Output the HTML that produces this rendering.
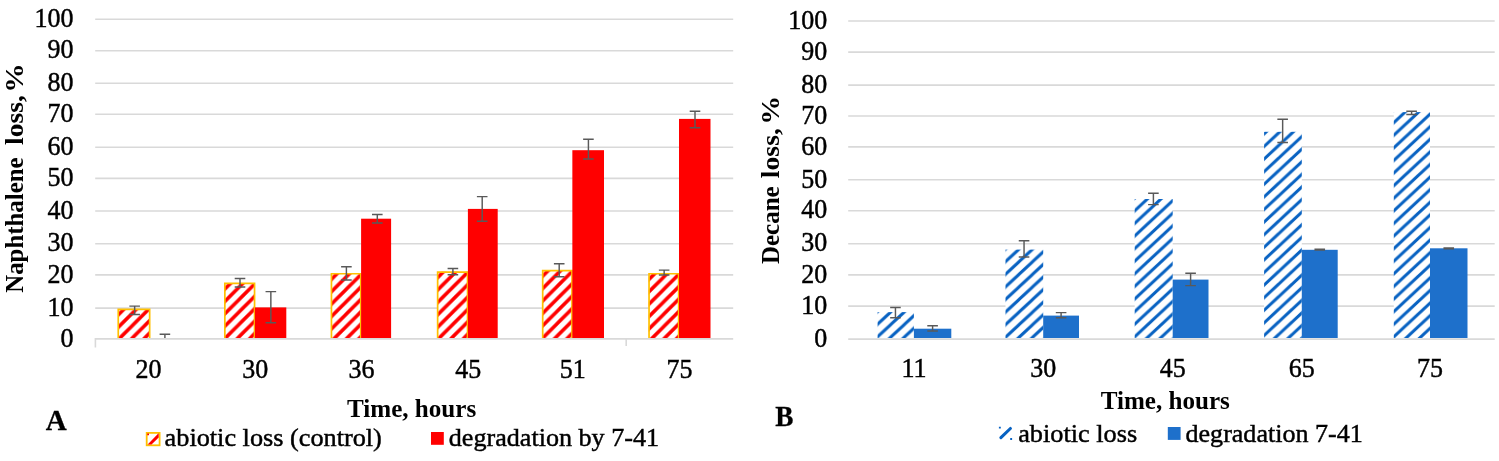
<!DOCTYPE html>
<html lang="en"><head><meta charset="utf-8"><title>Naphthalene and decane loss</title>
<style>html,body{margin:0;padding:0;background:#fff;overflow:hidden}svg{display:block}text{font-family:"Liberation Serif","Times New Roman",serif;fill:#000;font-size:26px}.n{stroke:#000;stroke-width:.45px}.b{font-weight:bold}.l{font-size:29px;font-weight:bold;stroke:#000;stroke-width:.3px}</style></head><body>
<svg width="1499" height="461" viewBox="0 0 1499 461">
<defs>
<pattern id="hr" width="12.4" height="12.4" patternUnits="userSpaceOnUse"><rect width="12.4" height="12.4" fill="#fff"/><path d="M-4.00 -1.20L16.40 -21.60M-4.00 11.20L16.40 -9.20M-4.00 23.60L16.40 3.20M-4.00 36.00L16.40 15.60" stroke="#ff0000" stroke-width="3.6"/></pattern>
<pattern id="hb0" width="13.548" height="12.6" patternUnits="userSpaceOnUse"><rect width="13.548" height="12.6" fill="#fff"/><path d="M-4.00 -9.38L17.55 -29.42M-4.00 3.22L17.55 -16.82M-4.00 15.82L17.55 -4.22M-4.00 28.42L17.55 8.38" stroke="#0862c2" stroke-width="3.05"/></pattern>
<pattern id="hb1" width="13.548" height="12.6" patternUnits="userSpaceOnUse"><rect width="13.548" height="12.6" fill="#fff"/><path d="M-4.00 -9.38L17.55 -29.42M-4.00 3.22L17.55 -16.82M-4.00 15.82L17.55 -4.22M-4.00 28.42L17.55 8.38" stroke="#0862c2" stroke-width="3.05"/></pattern>
<pattern id="hb2" width="13.548" height="12.6" patternUnits="userSpaceOnUse"><rect width="13.548" height="12.6" fill="#fff"/><path d="M-4.00 -9.68L17.55 -29.72M-4.00 2.92L17.55 -17.12M-4.00 15.52L17.55 -4.52M-4.00 28.12L17.55 8.08" stroke="#0862c2" stroke-width="3.05"/></pattern>
<pattern id="hb3" width="13.548" height="12.6" patternUnits="userSpaceOnUse"><rect width="13.548" height="12.6" fill="#fff"/><path d="M-4.00 -6.88L17.55 -26.92M-4.00 5.72L17.55 -14.32M-4.00 18.32L17.55 -1.72M-4.00 30.92L17.55 10.88" stroke="#0862c2" stroke-width="3.05"/></pattern>
<pattern id="hb4" width="13.548" height="12.6" patternUnits="userSpaceOnUse"><rect width="13.548" height="12.6" fill="#fff"/><path d="M-4.00 -10.98L17.55 -31.02M-4.00 1.62L17.55 -18.42M-4.00 14.22L17.55 -5.82M-4.00 26.82L17.55 6.78" stroke="#0862c2" stroke-width="3.05"/></pattern>
</defs>
<rect width="1499" height="461" fill="#fff"/>
<text class="n" transform="translate(73.60,346.60) scale(1,1.085)" text-anchor="end">0</text>
<line x1="95.20" y1="308.10" x2="733.20" y2="308.10" stroke="#d9d9d9" stroke-width="1.6"/>
<text class="n" transform="translate(73.60,315.80) scale(1,1.085)" text-anchor="end">10</text>
<line x1="95.20" y1="274.90" x2="733.20" y2="274.90" stroke="#d9d9d9" stroke-width="1.6"/>
<text class="n" transform="translate(73.60,282.60) scale(1,1.085)" text-anchor="end">20</text>
<line x1="95.20" y1="243.70" x2="733.20" y2="243.70" stroke="#d9d9d9" stroke-width="1.6"/>
<text class="n" transform="translate(73.60,251.40) scale(1,1.085)" text-anchor="end">30</text>
<line x1="95.20" y1="211.00" x2="733.20" y2="211.00" stroke="#d9d9d9" stroke-width="1.6"/>
<text class="n" transform="translate(73.60,218.70) scale(1,1.085)" text-anchor="end">40</text>
<line x1="95.20" y1="178.40" x2="733.20" y2="178.40" stroke="#d9d9d9" stroke-width="1.6"/>
<text class="n" transform="translate(73.60,186.10) scale(1,1.085)" text-anchor="end">50</text>
<line x1="95.20" y1="147.20" x2="733.20" y2="147.20" stroke="#d9d9d9" stroke-width="1.6"/>
<text class="n" transform="translate(73.60,154.90) scale(1,1.085)" text-anchor="end">60</text>
<line x1="95.20" y1="114.20" x2="733.20" y2="114.20" stroke="#d9d9d9" stroke-width="1.6"/>
<text class="n" transform="translate(73.60,121.90) scale(1,1.085)" text-anchor="end">70</text>
<line x1="95.20" y1="83.30" x2="733.20" y2="83.30" stroke="#d9d9d9" stroke-width="1.6"/>
<text class="n" transform="translate(73.60,91.00) scale(1,1.085)" text-anchor="end">80</text>
<line x1="95.20" y1="50.70" x2="733.20" y2="50.70" stroke="#d9d9d9" stroke-width="1.6"/>
<text class="n" transform="translate(73.60,58.40) scale(1,1.085)" text-anchor="end">90</text>
<line x1="95.20" y1="19.30" x2="733.20" y2="19.30" stroke="#d9d9d9" stroke-width="1.6"/>
<text class="n" transform="translate(73.60,27.00) scale(1,1.085)" text-anchor="end">100</text>
<g transform="translate(117.40,308.50)">
<rect x=".6" y=".6" width="31.90" height="28.90" fill="url(#hr)"/>
<path d="M0.85 29.50V0.85H32.25V29.50" fill="none" stroke="#ffc000" stroke-width="1.7"/>
</g>
<path d="M134.65 306.10V314.50M129.35 306.10h10.6M129.35 314.50h10.6" stroke="#595959" stroke-width="1.45" fill="none"/>
<path d="M164.90 334.20V338.60M159.60 334.20h10.6" stroke="#595959" stroke-width="1.45" fill="none"/>
<text class="n" transform="translate(148.40,377.7) scale(1,1.085)" text-anchor="middle">20</text>
<g transform="translate(224.00,282.60)">
<rect x=".6" y=".6" width="30.20" height="54.80" fill="url(#hr)"/>
<path d="M0.85 55.40V0.85H30.55V55.40" fill="none" stroke="#ffc000" stroke-width="1.7"/>
</g>
<rect x="254.90" y="307.40" width="31.40" height="30.60" fill="#ff0000"/>
<path d="M240.00 278.50V286.90M234.70 278.50h10.6M234.70 286.90h10.6" stroke="#595959" stroke-width="1.45" fill="none"/>
<path d="M270.85 291.60V322.80M265.55 291.60h10.6M265.55 322.80h10.6" stroke="#595959" stroke-width="1.45" fill="none"/>
<text class="n" transform="translate(255.30,377.7) scale(1,1.085)" text-anchor="middle">30</text>
<g transform="translate(330.60,272.90)">
<rect x=".6" y=".6" width="29.80" height="64.50" fill="url(#hr)"/>
<path d="M0.85 65.10V0.85H30.15V65.10" fill="none" stroke="#ffc000" stroke-width="1.7"/>
</g>
<rect x="361.10" y="218.70" width="30.00" height="119.30" fill="#ff0000"/>
<path d="M346.40 266.80V280.00M341.10 266.80h10.6M341.10 280.00h10.6" stroke="#595959" stroke-width="1.45" fill="none"/>
<path d="M377.30 214.40V223.00M372.00 214.40h10.6M372.00 223.00h10.6" stroke="#595959" stroke-width="1.45" fill="none"/>
<text class="n" transform="translate(361.50,377.7) scale(1,1.085)" text-anchor="middle">36</text>
<g transform="translate(436.80,271.20)">
<rect x=".6" y=".6" width="30.40" height="66.20" fill="url(#hr)"/>
<path d="M0.85 66.80V0.85H30.75V66.80" fill="none" stroke="#ffc000" stroke-width="1.7"/>
</g>
<rect x="467.90" y="208.90" width="29.80" height="129.10" fill="#ff0000"/>
<path d="M452.90 268.50V274.80M447.60 268.50h10.6M447.60 274.80h10.6" stroke="#595959" stroke-width="1.45" fill="none"/>
<path d="M482.20 196.60V221.30M476.90 196.60h10.6M476.90 221.30h10.6" stroke="#595959" stroke-width="1.45" fill="none"/>
<text class="n" transform="translate(468.30,377.7) scale(1,1.085)" text-anchor="middle">45</text>
<g transform="translate(541.85,269.70)">
<rect x=".6" y=".6" width="29.80" height="67.70" fill="url(#hr)"/>
<path d="M0.85 68.30V0.85H30.15V68.30" fill="none" stroke="#ffc000" stroke-width="1.7"/>
</g>
<rect x="572.35" y="150.20" width="31.65" height="187.80" fill="#ff0000"/>
<path d="M559.20 263.80V276.70M553.90 263.80h10.6M553.90 276.70h10.6" stroke="#595959" stroke-width="1.45" fill="none"/>
<path d="M588.42 139.30V159.00M583.12 139.30h10.6M583.12 159.00h10.6" stroke="#595959" stroke-width="1.45" fill="none"/>
<text class="n" transform="translate(572.75,377.7) scale(1,1.085)" text-anchor="middle">51</text>
<g transform="translate(648.20,272.90)">
<rect x=".6" y=".6" width="30.10" height="64.50" fill="url(#hr)"/>
<path d="M0.85 65.10V0.85H30.45V65.10" fill="none" stroke="#ffc000" stroke-width="1.7"/>
</g>
<rect x="679.00" y="118.90" width="31.50" height="219.10" fill="#ff0000"/>
<path d="M664.15 270.10V275.00M658.85 270.10h10.6M658.85 275.00h10.6" stroke="#595959" stroke-width="1.45" fill="none"/>
<path d="M695.00 111.20V127.80M689.70 111.20h10.6M689.70 127.80h10.6" stroke="#595959" stroke-width="1.45" fill="none"/>
<text class="n" transform="translate(679.40,377.7) scale(1,1.085)" text-anchor="middle">75</text>
<path d="M95.4 347.6V338.9H733.2M626.2 338.9V345.9" fill="none" stroke="#d9d9d9" stroke-width="1.6"/>
<text class="n" transform="translate(827.20,346.80) scale(1,1.085)" text-anchor="end">0</text>
<line x1="848.20" y1="306.10" x2="1494.70" y2="306.10" stroke="#d9d9d9" stroke-width="1.6"/>
<text class="n" transform="translate(827.20,313.80) scale(1,1.085)" text-anchor="end">10</text>
<line x1="848.20" y1="274.90" x2="1494.70" y2="274.90" stroke="#d9d9d9" stroke-width="1.6"/>
<text class="n" transform="translate(827.20,282.60) scale(1,1.085)" text-anchor="end">20</text>
<line x1="848.20" y1="243.70" x2="1494.70" y2="243.70" stroke="#d9d9d9" stroke-width="1.6"/>
<text class="n" transform="translate(827.20,251.40) scale(1,1.085)" text-anchor="end">30</text>
<line x1="848.20" y1="210.75" x2="1494.70" y2="210.75" stroke="#d9d9d9" stroke-width="1.6"/>
<text class="n" transform="translate(827.20,218.45) scale(1,1.085)" text-anchor="end">40</text>
<line x1="848.20" y1="179.80" x2="1494.70" y2="179.80" stroke="#d9d9d9" stroke-width="1.6"/>
<text class="n" transform="translate(827.20,187.50) scale(1,1.085)" text-anchor="end">50</text>
<line x1="848.20" y1="146.90" x2="1494.70" y2="146.90" stroke="#d9d9d9" stroke-width="1.6"/>
<text class="n" transform="translate(827.20,154.60) scale(1,1.085)" text-anchor="end">60</text>
<line x1="848.20" y1="116.00" x2="1494.70" y2="116.00" stroke="#d9d9d9" stroke-width="1.6"/>
<text class="n" transform="translate(827.20,123.70) scale(1,1.085)" text-anchor="end">70</text>
<line x1="848.20" y1="85.10" x2="1494.70" y2="85.10" stroke="#d9d9d9" stroke-width="1.6"/>
<text class="n" transform="translate(827.20,92.80) scale(1,1.085)" text-anchor="end">80</text>
<line x1="848.20" y1="52.10" x2="1494.70" y2="52.10" stroke="#d9d9d9" stroke-width="1.6"/>
<text class="n" transform="translate(827.20,59.80) scale(1,1.085)" text-anchor="end">90</text>
<line x1="848.20" y1="20.95" x2="1494.70" y2="20.95" stroke="#d9d9d9" stroke-width="1.6"/>
<text class="n" transform="translate(827.20,28.65) scale(1,1.085)" text-anchor="end">100</text>
<g transform="translate(877.60,312.10)">
<rect width="36.30" height="25.90" fill="url(#hb0)"/>
</g>
<rect x="913.90" y="328.70" width="37.40" height="9.30" fill="#1e70cb"/>
<path d="M895.45 307.50V317.80M890.15 307.50h10.6M890.15 317.80h10.6" stroke="#595959" stroke-width="1.45" fill="none"/>
<path d="M932.60 325.80V331.00M927.30 325.80h10.6M927.30 331.00h10.6" stroke="#595959" stroke-width="1.45" fill="none"/>
<text class="n" transform="translate(913.90,377.4) scale(1,1.085)" text-anchor="middle">11</text>
<g transform="translate(1005.50,249.60)">
<rect width="37.70" height="88.40" fill="url(#hb1)"/>
</g>
<rect x="1043.20" y="315.60" width="35.80" height="22.40" fill="#1e70cb"/>
<path d="M1024.05 240.70V256.90M1018.75 240.70h10.6M1018.75 256.90h10.6" stroke="#595959" stroke-width="1.45" fill="none"/>
<path d="M1061.10 312.60V317.80M1055.80 312.60h10.6M1055.80 317.80h10.6" stroke="#595959" stroke-width="1.45" fill="none"/>
<text class="n" transform="translate(1043.20,377.4) scale(1,1.085)" text-anchor="middle">30</text>
<g transform="translate(1134.70,199.00)">
<rect width="38.00" height="139.00" fill="url(#hb2)"/>
</g>
<rect x="1172.70" y="279.60" width="35.80" height="58.40" fill="#1e70cb"/>
<path d="M1153.40 193.20V204.60M1148.10 193.20h10.6M1148.10 204.60h10.6" stroke="#595959" stroke-width="1.45" fill="none"/>
<path d="M1190.60 273.30V285.60M1185.30 273.30h10.6M1185.30 285.60h10.6" stroke="#595959" stroke-width="1.45" fill="none"/>
<text class="n" transform="translate(1172.70,377.4) scale(1,1.085)" text-anchor="middle">45</text>
<g transform="translate(1264.10,131.80)">
<rect width="37.70" height="206.20" fill="url(#hb3)"/>
</g>
<rect x="1301.80" y="249.80" width="35.90" height="88.20" fill="#1e70cb"/>
<path d="M1282.65 119.20V142.40M1277.35 119.20h10.6M1277.35 142.40h10.6" stroke="#595959" stroke-width="1.45" fill="none"/>
<path d="M1319.75 249.20V250.00M1314.45 249.20h10.6M1314.45 250.00h10.6" stroke="#595959" stroke-width="1.45" fill="none"/>
<text class="n" transform="translate(1301.80,377.4) scale(1,1.085)" text-anchor="middle">65</text>
<g transform="translate(1393.80,112.10)">
<rect width="36.20" height="225.90" fill="url(#hb4)"/>
</g>
<rect x="1430.00" y="248.30" width="37.50" height="89.70" fill="#1e70cb"/>
<path d="M1411.60 111.20V114.40M1406.30 111.20h10.6M1406.30 114.40h10.6" stroke="#595959" stroke-width="1.45" fill="none"/>
<path d="M1448.75 247.90V248.70M1443.45 247.90h10.6M1443.45 248.70h10.6" stroke="#595959" stroke-width="1.45" fill="none"/>
<text class="n" transform="translate(1430.00,377.4) scale(1,1.085)" text-anchor="middle">75</text>
<path d="M848.2 339.1H1494.7" fill="none" stroke="#d9d9d9" stroke-width="1.6"/>
<text class="b" transform="translate(22.7,0) rotate(-90)"><tspan x="-292.75" textLength="135.24" lengthAdjust="spacingAndGlyphs">Naphthalene</tspan> <tspan x="-144.98" textLength="49.80" lengthAdjust="spacingAndGlyphs">loss,</tspan> <tspan x="-92.65" textLength="29.51" lengthAdjust="spacingAndGlyphs">%</tspan></text>
<text class="b" transform="translate(778.9,0) rotate(-90)"><tspan x="-264.05" textLength="77.75" lengthAdjust="spacingAndGlyphs">Decane</tspan> <tspan x="-178.18" textLength="50.01" lengthAdjust="spacingAndGlyphs">loss,</tspan> <tspan x="-124.89" textLength="28.89" lengthAdjust="spacingAndGlyphs">%</tspan></text>
<text class="b" y="416.8"><tspan x="346.95" textLength="129.33" lengthAdjust="spacingAndGlyphs">Time, hours</tspan></text>
<text class="b" y="408.8"><tspan x="1100.65" textLength="129.23" lengthAdjust="spacingAndGlyphs">Time, hours</tspan></text>
<text class="l" x="45.8" y="429.9">A</text>
<text class="l" x="775.3" y="426.2" textLength="18.2" lengthAdjust="spacingAndGlyphs">B</text>
<rect x="146.7" y="432.9" width="12.9" height="12.4" fill="#fff" stroke="#ffc000" stroke-width="1.8"/>
<path d="M147.6 444.4h3.9l7.2-6.9v-3.9h-0.4zM147.2 433.4h1.8v1.8h-1.8z" fill="#ff0000"/>
<text class="n" y="446.3"><tspan x="164.61" textLength="217.22" lengthAdjust="spacingAndGlyphs">abiotic loss (control)</tspan></text>
<rect x="431" y="432" width="12.8" height="12.8" fill="#ff0000"/>
<text class="n" y="446.3"><tspan x="448.82" textLength="210.25" lengthAdjust="spacingAndGlyphs">degradation by 7-41</tspan></text>
<path d="M1000.9 437.6L1010.4 428.5" stroke="#0862c2" stroke-width="3.1" stroke-linecap="round"/>
<path d="M998.9 426.7h1.9v1.9h-1.9zM1010.2 438h1.9v1.9h-1.9z" fill="#0862c2"/>
<text class="n" y="441.5"><tspan x="1018.21" textLength="118.95" lengthAdjust="spacingAndGlyphs">abiotic loss</tspan></text>
<rect x="1167.8" y="427" width="12.8" height="12.9" fill="#1e70cb"/>
<text class="n" y="441.5"><tspan x="1185.52" textLength="177.24" lengthAdjust="spacingAndGlyphs">degradation 7-41</tspan></text>
</svg></body></html>
